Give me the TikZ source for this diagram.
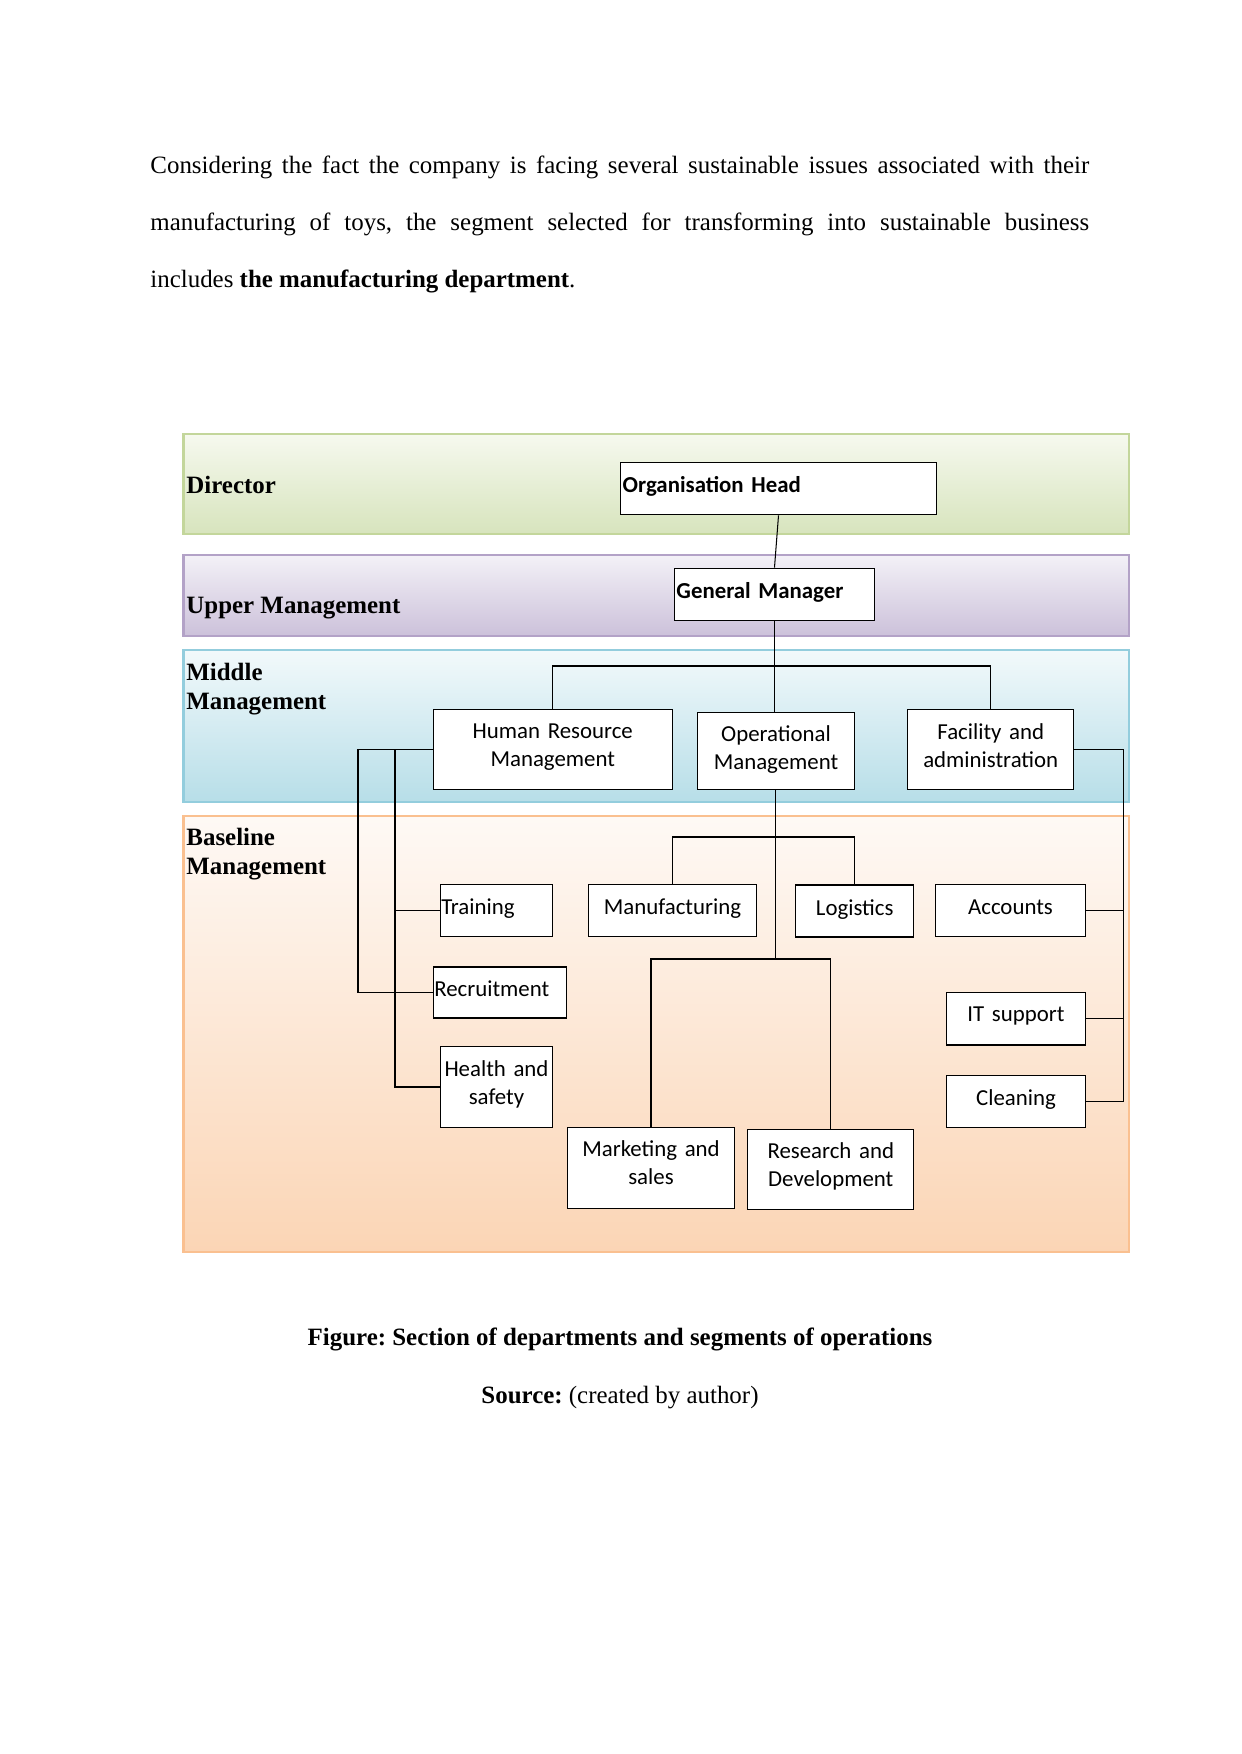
\documentclass[tikz,border=0pt]{standalone}
\usepackage{fontspec}
\setmainfont{Liberation Serif}
\newfontfamily\cfont{Carlito}
\usetikzlibrary{calc}
\frenchspacing
\definecolor{dirtop}{HTML}{F6F9EF}
\definecolor{dirbot}{HTML}{D7E4BD}
\definecolor{dirdraw}{HTML}{C3D69B}
\definecolor{uptop}{HTML}{F3F1F7}
\definecolor{upbot}{HTML}{CCC1DA}
\definecolor{updraw}{HTML}{B3A2C7}
\definecolor{midtop}{HTML}{F2F9FB}
\definecolor{midbot}{HTML}{B7DEE8}
\definecolor{middraw}{HTML}{93CDDD}
\definecolor{bastop}{HTML}{FEF9F5}
\definecolor{basbot}{HTML}{FBD5B5}
\definecolor{basdraw}{HTML}{FAC090}
\newcommand{\upby}[1]{\par\vspace*{#1}\hrule height 0pt depth 0pt width 0pt\relax}
\tikzset{
  band/.style={line width=1pt},
  box/.style={draw, fill=white, line width=0.55pt, inner sep=0pt,
    font=\cfont\fontsize{11}{13.4}\selectfont},
  lbox/.style={box, align=left},
  cbox/.style={box, align=center},
  bandlabel/.style={anchor=base west, inner sep=0pt, font=\bfseries\fontsize{12}{14}\selectfont},
  conn/.style={line width=0.5pt},
  bodyline/.style={anchor=base west, inner sep=0pt, font=\fontsize{12}{14}\selectfont}
}
\begin{document}
\begin{tikzpicture}[x=0.016922cm, y=-0.016922cm]
\useasboundingbox[fill=white] (0,0) rectangle (1241,1754);

% body text
\node[bodyline] (l1) at (150,173.5) {\makebox[452pt][s]{Considering the fact the company is facing several sustainable issues associated with their}};
\node[bodyline] (l2) at (150,230.5) {\makebox[452pt][s]{manufacturing of toys, the segment selected for transforming into sustainable business}};
\node[bodyline] (l3) at (150,287.6) {includes \textbf{the manufacturing department}.};

% bands
\path[band, draw=dirdraw, top color=dirtop, bottom color=dirbot] (183.5,434) rectangle (1129,534);
\path[band, draw=updraw, top color=uptop, bottom color=upbot] (183.5,555) rectangle (1129,636);
\path[band, draw=middraw, top color=midtop, bottom color=midbot] (183.5,650) rectangle (1129,802);
\path[band, draw=basdraw, top color=bastop, bottom color=basbot] (183.5,816) rectangle (1129,1252);

\node[bandlabel] (dir) at (186,493) {Director};
\node[bandlabel] (upm) at (186,613) {Upper Management};
\node[bandlabel] (mid1) at (186,680) {Middle};
\node[bandlabel] (mid2) at (186,709) {Management};
\node[bandlabel] (bas1) at (186,845) {Baseline};
\node[bandlabel] (bas2) at (186,874) {Management};

% boxes
\node[lbox, minimum width=152pt, minimum height=25.4pt, text width=150pt] (OH) at (778.5,488.5) {\bfseries Organisation Head\upby{2.2pt}};
\node[lbox, minimum width=96.4pt, minimum height=25.4pt, text width=94.4pt] (GM) at (774.5,594.5) {\bfseries General Manager\upby{2.2pt}};
\node[cbox, minimum width=114.9pt, minimum height=38.6pt, text width=110pt] (HRM) at (552.75,749.75) {Human Resource\\Management\upby{2.2pt}};
\node[cbox, minimum width=75.8pt, minimum height=37.4pt, text width=72pt] (OPM) at (776,751) {Operational\\Management\upby{1.7pt}};
\node[cbox, minimum width=79.9pt, minimum height=38.6pt, text width=76pt] (FA) at (990.75,749.75) {Facility and\\administration\upby{4.3pt}};
\node[lbox, minimum width=54.2pt, minimum height=25.4pt, text width=53.2pt] (Train) at (496.5,910.5) {Training\upby{2.2pt}};
\node[cbox, minimum width=80.6pt, minimum height=25.4pt, text width=78pt] (Manu) at (672.5,910.5) {Manufacturing\upby{2.2pt}};
\node[cbox, minimum width=56.8pt, minimum height=25pt, text width=54pt] (Log) at (854.75,911) {Logistics\upby{1pt}};
\node[cbox, minimum width=72pt, minimum height=25.4pt, text width=70pt] (Acc) at (1010.5,910.5) {Accounts\upby{3.2pt}};
\node[lbox, minimum width=64.3pt, minimum height=24.5pt, text width=63.3pt] (Rec) at (500,992.5) {Recruitment\upby{3.2pt}};
\node[cbox, minimum width=66.7pt, minimum height=25.2pt, text width=64pt] (IT) at (1016,1018.75) {IT support\upby{2.2pt}};
\node[cbox, minimum width=54.2pt, minimum height=39.3pt, text width=53pt] (HS) at (496.5,1087) {Health and\\safety\upby{2.2pt}};
\node[cbox, minimum width=66.7pt, minimum height=25.4pt, text width=64pt] (Clean) at (1016,1101.5) {Cleaning\upby{2.2pt}};
\node[cbox, minimum width=80.6pt, minimum height=39.1pt, text width=78pt] (Mkt) at (651,1167.75) {Marketing and\\sales\upby{4.8pt}};
\node[cbox, minimum width=79.9pt, minimum height=38.9pt, text width=78pt] (RD) at (830.75,1169.5) {Research and\\Development\upby{3.2pt}};

% connectors
\coordinate (bar) at (774.5,666);
\coordinate (L1) at (358,0);
\coordinate (L2) at (395,0);
\coordinate (R) at (1123.5,0);
\coordinate (mb) at (775.5,837);
\coordinate (lb) at (775.5,959);

\draw[conn] (OH.south) -- (GM.north);
\draw[conn] (GM.south) -- (GM.south |- OPM.north);
\draw[conn] (HRM.north) -- (HRM.north |- bar) -- (FA.north |- bar) -- (FA.north);
\draw[conn] (HRM.west) -| (L1 |- Rec.west) -- (Rec.west);
\draw[conn] (HRM.west -| L2) |- (HS.west);
\draw[conn] (L2 |- Train.west) -- (Train.west);
\draw[conn] (Manu.north) |- (mb) -| (Log.north);
\draw[conn] (OPM.south -| lb) -- (lb);
\draw[conn] (Mkt.north) |- (lb) -| (RD.north);
\draw[conn] (FA.east) -| (R |- Clean.east) -- (Clean.east);
\draw[conn] (Acc.east) -- (R |- Acc.east);
\draw[conn] (IT.east) -- (R |- IT.east);

% caption
\node[anchor=base, inner sep=0pt, font=\bfseries\fontsize{12}{14}\selectfont] (cap) at (620,1345) {Figure: Section of departments and segments of operations};
\node[anchor=base, inner sep=0pt, font=\fontsize{12}{14}\selectfont] (src) at (620,1403) {\textbf{Source:} (created by author)};
\end{tikzpicture}
\end{document}
